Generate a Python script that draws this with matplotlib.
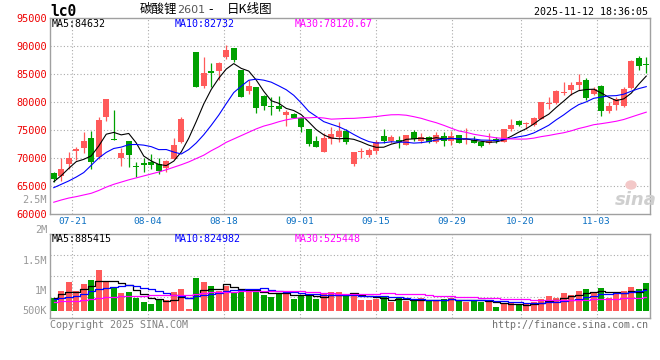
import numpy as np
import pandas as pd
import matplotlib.pyplot as plt
from matplotlib.patches import Ellipse

# ============================================================
# DATA  (80 sessions 07-16 .. 11-12)
# ============================================================

opens = [67262, 66845, 68930, 71190, 71845, 73571, 70238, 77381, 73333, 70060,
         72976, 68571, 69107, 69286, 68929, 68155, 69881, 72917, 81000, 88988,
         82857, 85595, 85595, 88095, 89583, 85714, 81964, 82619, 81071, 79286,
         79286, 77679, 77857, 77083, 75238, 73036, 71131, 73333, 73810, 74881,
         68929, 71071, 70536, 71310, 73929, 73036, 73214, 72321, 74702, 73036,
         73810, 72917, 73929, 73036, 74107, 73214, 73214, 72917, 72619, 73333,
         72900, 75179, 76607, 76012, 75893, 76905, 79583, 79762, 81548, 82143,
         83036, 83929, 81369, 82857, 78393, 79464, 79286, 82440, 87798, 86786]
highs = [67560, 69940, 71012, 71905, 74702, 74881, 77262, 80536, 78571, 71726,
         72976, 69345, 69940, 70714, 69940, 69643, 73631, 77262, 81071, 88988,
         88095, 86905, 87202, 90179, 89583, 85714, 83929, 82619, 81250, 80952,
         81071, 78571, 77976, 77262, 75238, 73929, 74405, 75595, 76488, 75119,
         71131, 71726, 71726, 73214, 75179, 74107, 73929, 74107, 75000, 74524,
         73929, 74702, 74702, 74881, 74107, 75417, 73929, 73036, 74524, 73810,
         75179, 76905, 76786, 76488, 77381, 80060, 80833, 82143, 83631, 83631,
         85000, 84345, 82619, 83036, 80060, 80952, 82619, 87500, 88214, 87976]
lows = [65774, 65952, 68036, 69643, 70952, 67976, 69762, 76667, 73155, 68631,
        68452, 66667, 67560, 67976, 67143, 67560, 69762, 72619, 81000, 82619,
        82560, 82738, 83929, 87679, 87083, 80952, 81429, 78095, 78571, 77679,
        78452, 75714, 77083, 74702, 72143, 71905, 71131, 72500, 72917, 72500,
        68571, 70060, 70238, 70714, 72738, 72738, 71726, 72321, 73095, 72619,
        72738, 72619, 72143, 72321, 72619, 72500, 72619, 71905, 72440, 72619,
        72900, 74881, 75774, 75179, 75714, 76905, 78750, 79643, 81250, 81250,
        82143, 80357, 81250, 77560, 78095, 78571, 79048, 82262, 85714, 85238]
closes = [66250, 67976, 70000, 71548, 73036, 69345, 76786, 80536, 73155, 70833,
          70595, 68333, 68810, 68810, 67738, 69524, 72321, 77024, 81071, 82619,
          85238, 85238, 87024, 89286, 87500, 80952, 82857, 78988, 79286, 79048,
          78690, 78274, 77083, 75595, 72500, 71905, 73571, 74286, 74881, 72917,
          71012, 71250, 71429, 72917, 73036, 73690, 72917, 74107, 73333, 73690,
          72917, 74107, 73036, 73929, 72738, 73333, 72738, 72202, 73036, 73036,
          75179, 75893, 75893, 76190, 77202, 80060, 79762, 81964, 81845, 83036,
          83512, 80774, 82262, 78452, 79286, 80476, 82321, 87321, 86488, 86548]
# volume, thousand lots
volumes_k = [502, 792, 1162, 792, 1069, 1228, 1624, 1135, 924, 713,
             766, 528, 370, 277, 436, 436, 752, 871, 79, 1320,
             1162, 990, 792, 990, 766, 792, 766, 871, 634, 568,
             726, 792, 475, 634, 607, 462, 673, 739, 739, 607,
             726, 436, 436, 475, 541, 370, 502, 396, 436, 528,
             396, 396, 488, 528, 396, 370, 436, 370, 343, 172,
             264, 317, 264, 264, 343, 475, 594, 528, 713, 634,
             792, 871, 726, 924, 502, 700, 792, 964, 871, 1096]

# moving-average values before a full window exists
ma5_head = [65770, 66850, 68150, 69350]
ma10_head = [64700, 65300, 65900, 66600, 67400, 68700, 70000, 71000, 71700]
ma30_head = [62100, 62500, 62850, 63100, 63400, 63700, 64200, 64800, 65300, 65700,
             66100, 66450, 66800, 67150, 67500, 67900, 68350, 68800, 69300, 69900,
             70500, 71300, 72000, 72800, 73400, 74000, 74600, 75200, 75700]
vma5_head = [528, 660, 766, 766]
vma10_head = [462, 502, 541, 607, 660, 792, 871, 924, 937]
vma30_head = [370, 380, 396, 405, 420, 475, 528, 545, 560, 575,
              590, 600, 607, 615, 620, 625, 630, 634, 640, 690,
              720, 740, 750, 760, 766, 775, 785, 790, 800]

date_idx = [3, 13, 23, 33, 43, 53, 62, 72]
date_labels = ["07-21", "08-04", "08-18", "09-01", "09-15", "09-29", "10-20", "11-03"]

price_ticks = [60000, 65000, 70000, 75000, 80000, 85000, 90000, 95000]

ma_price_text = ["MA5:84632", "MA10:82732", "MA30:78120.67"]
ma_vol_text = ["MA5:885415", "MA10:824982", "MA30:525448"]
vol_axis_text = ["2M", "1.5M", "1M", "500K"]

# ============================================================
# STYLE
# ============================================================

W, H = 660, 360
RED = "#ff5a5a"
GREEN = "#00a000"
MA_COLORS = ["black", "#0000ff", "#ff00ff"]
BORDER = "#a0a0a0"
GRID = "#aaaaaa"
MONO = "DejaVu Sans Mono"
VOL_PX = 39.6          # thousand lots per pixel in the volume panel

plt.rcParams["font.family"] = [MONO, "Noto Sans CJK SC"]


def ax_rect(x0, y0, x1, y1):
    return [x0 / W, 1 - y1 / H, (x1 - x0) / W, (y1 - y0) / H]


def ftext(x, y, s, **kw):
    fig.text(x / W, 1 - y / H, s, **kw)


def with_head(values, head, n):
    s = pd.Series(values, dtype=float).rolling(n).mean()
    s.iloc[:len(head)] = head
    return s.values


n = len(closes)
x = np.arange(n)
o = np.array(opens, float)
c = np.array(closes, float)
hi = np.array(highs, float)
lo = np.array(lows, float)
vol = np.array(volumes_k, float)
colors = [RED if cc >= oo else GREEN for oo, cc in zip(o, c)]

# date gridlines are spaced slightly wider than the candles in the original
grid_x = [43 + (i - 43) * 76 / 75 for i in date_idx]

fig = plt.figure(figsize=(W / 100, H / 100), dpi=100)
ax = fig.add_axes(ax_rect(50, 18, 650, 214))
axv = fig.add_axes(ax_rect(50, 234, 650, 318))

for a in (ax, axv):
    a.set_xlim(-0.5, n - 0.5)
    for sp in a.spines.values():
        sp.set_color(BORDER)
        sp.set_linewidth(1.0)
    for gx in grid_x:
        a.axvline(gx, color=GRID, lw=0.8, ls=(0, (1, 2)), zorder=0)

# ---------------- price panel ----------------
ax.set_ylim(60000, 95000)
for p in price_ticks[1:-1]:
    ax.axhline(p, color=GRID, lw=0.8, ls=(0, (1, 2)), zorder=0)

ax.vlines(x, lo, hi, colors=colors, lw=0.9, zorder=2)
body_h = np.maximum(np.abs(c - o), 160)
ax.bar(x, body_h, bottom=np.minimum(o, c), width=0.8, color=colors,
       linewidth=0, zorder=3)

for heads, win, col in zip([ma5_head, ma10_head, ma30_head], [5, 10, 30], MA_COLORS):
    ax.plot(x, with_head(c, heads, win), color=col, lw=0.8, zorder=4)

ax.set_yticks(price_ticks)
ax.set_yticklabels([str(p) for p in price_ticks], color="#ee0000",
                   fontsize=7.4, family=MONO)
ax.set_xticks(grid_x)
ax.set_xticklabels(date_labels, color="#0a6fc2", fontsize=6.8, family=MONO)
ax.tick_params(length=0, pad=2.5)

for tx, s, col in zip([52, 175, 295], ma_price_text, MA_COLORS):
    ftext(tx, 24, s, color=col, fontsize=7.2, va="center", ha="left")

# sina watermark
ftext(636, 200, "sina", color="#cfcfcf", fontsize=13, fontweight="bold",
      style="italic", family="DejaVu Sans", ha="center", va="center")
fig.patches.append(Ellipse((631 / W, 1 - 185 / H), 10 / W, 8 / H,
                           color="#f3c8c8", transform=fig.transFigure,
                           figure=fig, zorder=1))

# ---------------- volume panel ----------------
axv.set_ylim(-7 * VOL_PX, 77 * VOL_PX)
y0, y1 = axv.get_ylim()
for k in (1, 2, 3):
    axv.axhline(y0 + k * (y1 - y0) / 4, color=GRID, lw=0.8, ls=(0, (1, 2)), zorder=0)

axv.bar(x, vol, width=0.8, color=colors, linewidth=0, zorder=2)
for heads, win, col in zip([vma5_head, vma10_head, vma30_head], [5, 10, 30], MA_COLORS):
    axv.plot(x, with_head(vol, heads, win), color=col, lw=0.9,
             drawstyle="steps-mid", zorder=3)
axv.set_xticks([])
axv.set_yticks([])

for tx, s, col in zip([52, 175, 295], ma_vol_text, MA_COLORS):
    ftext(tx, 239, s, color=col, fontsize=7.2, va="center", ha="left")

for ty, s in zip([230.5, 260.5, 291, 310.5], vol_axis_text):
    ftext(47, ty, s, color="#999999", fontsize=7.4, ha="right", va="center")
ftext(47, 200, "2.5M", color="#999999", fontsize=7.4, ha="right", va="center")

# ---------------- header / footer ----------------
ftext(50, 11.5, "lc0", fontsize=10.5, fontweight="bold", va="center", ha="left")
cjk = ["Noto Sans CJK SC", "DejaVu Sans"]
ftext(140, 9.5, "碳酸锂", family=cjk, fontsize=9, va="center", ha="left")
ftext(177, 10, "2601", family="DejaVu Sans", color="#555555", fontsize=8,
      va="center", ha="left")
ftext(208, 9.5, "-", family="DejaVu Sans", fontsize=9, va="center", ha="left")
ftext(227, 9.5, "日K线图", family=cjk, fontsize=9, va="center", ha="left")
ftext(648, 12, "2025-11-12 18:36:05", fontsize=7.2, va="center", ha="right")

ftext(50, 325, "Copyright 2025 SINA.COM", color="#808080", fontsize=7.2,
      va="center", ha="left")
ftext(648, 325, "http://finance.sina.com.cn", color="#707070", fontsize=7.2,
      va="center", ha="right")

fig.savefig("out.png", dpi=100)
